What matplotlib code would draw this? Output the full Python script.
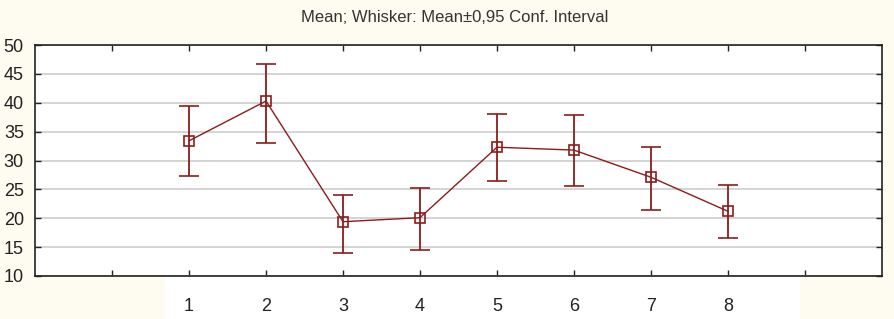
import matplotlib
matplotlib.use("Agg")
import matplotlib.pyplot as plt
from matplotlib.patches import Rectangle
import numpy as np

# Dati
groups = [1, 2, 3, 4, 5, 6, 7, 8]
means = [33.4, 40.3, 19.4, 20.1, 32.3, 31.8, 27.1, 21.2]
upper = [39.4, 46.7, 24.0, 25.2, 38.1, 37.9, 32.3, 25.8]
lower = [27.3, 33.1, 14.0, 14.5, 26.5, 25.6, 21.4, 16.6]
title = "Mean; Whisker: Mean±0,95 Conf. Interval"

plt.rcParams['font.family'] = ['Liberation Sans', 'DejaVu Sans']

col = '#8b1c1c'
bg = '#fefbf1'

fig = plt.figure(figsize=(8.95, 3.19), dpi=100, facecolor=bg)
ax = fig.add_axes([35/895, 1 - 276/319, (882 - 35)/895, (276 - 45)/319])
ax.set_facecolor('white')

# fascia bianca sotto le etichette x
fig.add_artist(Rectangle((165/895, 0), (800 - 165)/895, 1 - 276/319,
                         transform=fig.transFigure, facecolor='white',
                         edgecolor='none', zorder=0))

m = np.array(means)
err = [m - np.array(lower), np.array(upper) - m]
ax.errorbar(groups, means, yerr=err, color=col, lw=1.0, elinewidth=1.3,
            capsize=7.5, capthick=1.3, marker='s', ms=7, mfc='none',
            mec=col, mew=1.2, zorder=3)

ax.set_xlim(-1, 10)
ax.set_ylim(10, 50)
ax.set_xticks(range(0, 10))
ax.set_xticklabels([str(i) if i in groups else '' for i in range(0, 10)])
ax.set_yticks(range(10, 51, 5))

ax.yaxis.grid(True, color='#d4d4d4', lw=1.4)
ax.set_axisbelow(True)

ax.tick_params(axis='x', direction='in', top=True, bottom=True, length=4,
               width=1, labelsize=13, pad=16, colors='#222222')
ax.tick_params(axis='y', direction='in', left=True, right=True, length=4,
               width=1, labelsize=13, pad=8, colors='#222222')
for s in ax.spines.values():
    s.set_color('#222222')
    s.set_linewidth(1.2)

fig.text(0.508, 1 - 18/319, title, ha='center', va='center', fontsize=12,
         color='#333333')

fig.savefig('out.png', dpi=100, facecolor=bg)
